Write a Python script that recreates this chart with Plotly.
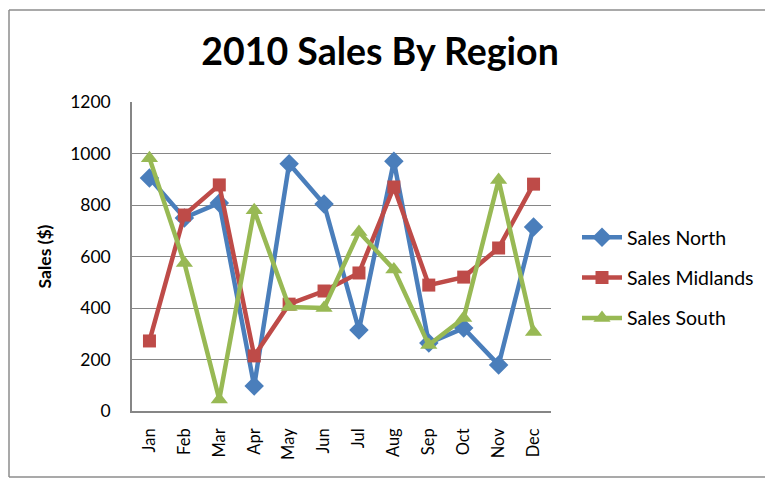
import plotly.graph_objects as go

months = ["Jan", "Feb", "Mar", "Apr", "May", "Jun", "Jul", "Aug", "Sep", "Oct", "Nov", "Dec"]
sales_north = [905, 750, 808, 97, 960, 804, 315, 970, 264, 322, 179, 715]
sales_midlands = [272, 761, 878, 214, 415, 466, 536, 870, 489, 520, 633, 881]
sales_south = [982, 575, 45, 780, 404, 400, 695, 550, 256, 361, 897, 307]
y_ticks = [0, 200, 400, 600, 800, 1000, 1200]

series = [
    ("Sales North", sales_north, "#4A7EBB", "diamond", 15),
    ("Sales Midlands", sales_midlands, "#BE4B48", "square", 13),
    ("Sales South", sales_south, "#98B954", "triangle-up", 15),
]

FONT = "Lato, Open Sans, sans-serif"

fig = go.Figure()
for i, (name, vals, color, sym, size) in enumerate(series):
    fig.add_trace(go.Scatter(
        x=months, y=vals, name=name, mode="lines+markers", legendgroup=f"g{i}",
        line=dict(color=color, width=4.5),
        marker=dict(symbol=sym, size=size, color=color),
        cliponaxis=False,
    ))

# page body has an 8px margin; work in reference pixel coordinates
OFF = 8
W, H = 773 - OFF, 478 - OFF
L, R, T, B = 132 - OFF, 551 - OFF, 102 - OFF, 411 - OFF
pw, ph = R - L, B - T

def px_x(x):
    return (x - OFF - L) / pw

def px_y(y):
    return (B - (y - OFF)) / ph

frame = dict(color="#8c8c8c", width=1.5)
bx0, bx1, by0, by1 = px_x(9), px_x(771), px_y(477), px_y(10)

fig.update_layout(
    width=W, height=H,
    margin=dict(l=L, r=W - R, t=T, b=H - B),
    paper_bgcolor="white", plot_bgcolor="white",
    font=dict(family=FONT, color="#000000", size=16),
    title=dict(text="<b>2010 Sales By Region</b>", x=(380 - OFF) / W, xanchor="center",
               y=1 - (52 - OFF) / H, yanchor="middle",
               font=dict(size=37.5, family=FONT, color="#000")),
    showlegend=True,
    legend=dict(x=px_x(577), y=px_y(278), xanchor="left", yanchor="middle",
                font=dict(size=19.5), itemwidth=40, tracegroupgap=12,
                bgcolor="rgba(0,0,0,0)"),
    shapes=[
        dict(type="line", xref="paper", yref="paper", x0=bx0, x1=bx1, y0=by1, y1=by1, line=frame, layer="below"),
        dict(type="line", xref="paper", yref="paper", x0=bx0, x1=bx1, y0=by0, y1=by0, line=frame, layer="below"),
        dict(type="line", xref="paper", yref="paper", x0=bx0, x1=bx0, y0=by0, y1=by1, line=frame, layer="below"),
    ],
)
fig.update_xaxes(
    type="category", range=[-0.5, len(months) - 0.5], tickangle=-90, showgrid=False,
    showline=True, linecolor="#868686", linewidth=1.5,
    ticks="", tickfont=dict(size=16.5), ticklabelstandoff=9, fixedrange=True,
)
fig.update_yaxes(
    range=[0, 1200], tickvals=y_ticks, showgrid=True, gridcolor="#868686", gridwidth=1,
    showline=True, linecolor="#868686", linewidth=1.5, zeroline=False,
    ticks="", tickfont=dict(size=17.5), ticklabelstandoff=16,
    title=dict(text="<b>Sales ($)</b>", font=dict(size=17.5), standoff=14),
)

fig.write_html("out.html")
